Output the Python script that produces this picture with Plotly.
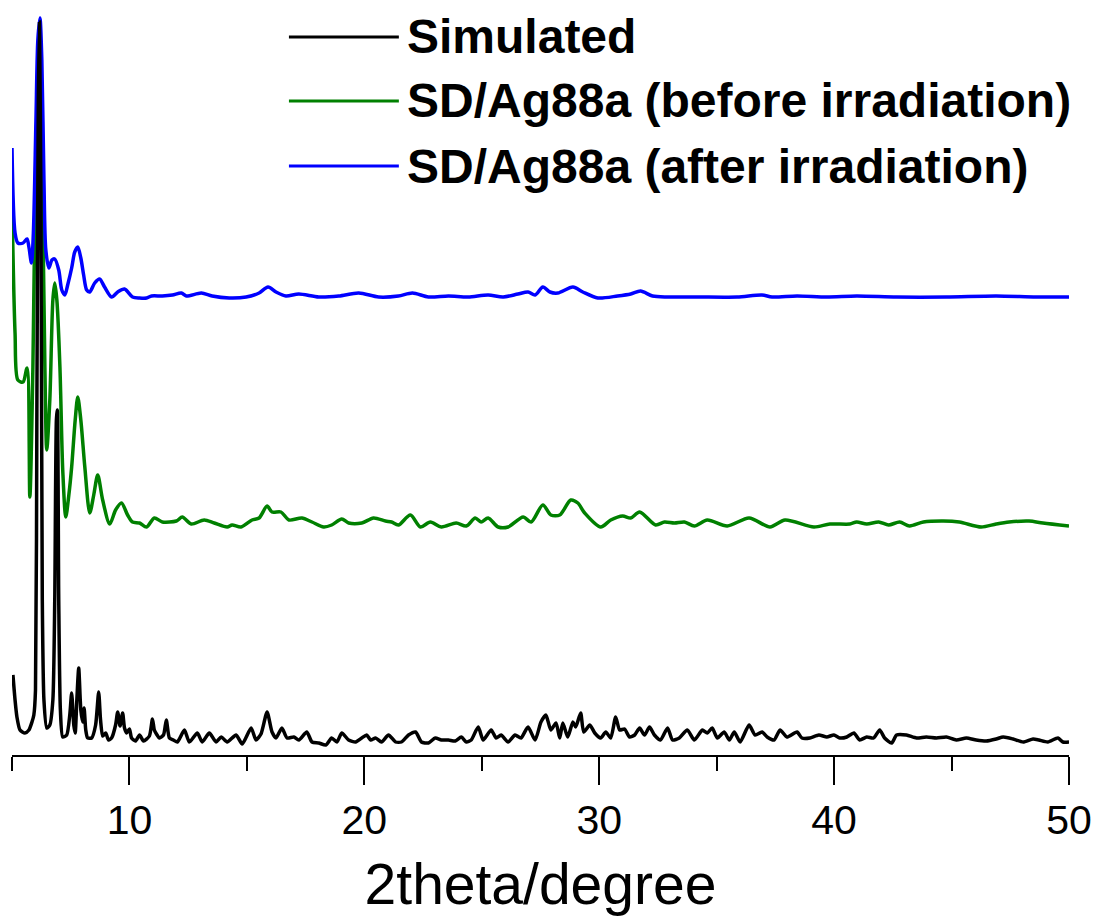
import plotly.graph_objects as go

# Powder XRD patterns, 2theta in degrees, intensity in arbitrary units
sim_2theta = [5.04, 5.13, 5.21, 5.34, 5.55, 5.72, 5.85, 5.93, 6.00, 6.06, 6.12, 6.17, 6.23, 6.29, 6.36,
              6.48, 6.61, 6.74, 6.82, 6.89, 6.93, 6.99, 7.06, 7.16, 7.33, 7.46, 7.54, 7.63, 7.69, 7.76,
              7.84, 7.93, 8.01, 8.07, 8.14, 8.22, 8.39, 8.56, 8.69, 8.77, 8.86, 8.99, 9.11, 9.24, 9.41,
              9.50, 9.60, 9.71, 9.79, 9.88, 10.00, 10.09, 10.26, 10.43, 10.60, 10.85, 10.98, 11.06, 11.15,
              11.28, 11.45, 11.57, 11.70, 11.87, 12.04, 12.34, 12.55, 12.89, 13.10, 13.40, 13.69, 13.91,
              14.16, 14.54, 14.80, 15.18, 15.39, 15.60, 15.86, 16.07, 16.24, 16.49, 16.71, 17.00, 17.21,
              17.55, 17.77, 18.06, 18.36, 18.61, 18.83, 19.04, 19.33, 19.63, 19.89, 20.10, 20.27, 20.48,
              20.73, 21.03, 21.33, 21.58, 21.88, 22.18, 22.43, 22.73, 23.02, 23.28, 23.58, 23.87, 24.13,
              24.34, 24.55, 24.85, 25.06, 25.40, 25.61, 25.82, 26.12, 26.42, 26.67, 26.97, 27.27, 27.52,
              27.73, 27.94, 28.16, 28.32, 28.45, 28.66, 28.88, 29.00, 29.21, 29.34, 29.60, 29.81, 30.06,
              30.28, 30.49, 30.70, 30.87, 31.08, 31.29, 31.51, 31.72, 31.93, 32.14, 32.35, 32.61, 32.91,
              33.12, 33.41, 33.75, 34.05, 34.39, 34.60, 34.81, 35.03, 35.32, 35.54, 35.75, 36.00, 36.38,
              36.64, 36.93, 37.15, 37.44, 37.70, 37.99, 38.42, 38.63, 38.97, 39.35, 39.69, 39.99, 40.24,
              40.54, 40.84, 41.09, 41.39, 41.68, 41.94, 42.15, 42.45, 42.66, 43.08, 43.51, 43.93, 44.36,
              44.78, 45.20, 45.63, 46.05, 46.48, 46.90, 47.20, 47.62, 48.05, 48.47, 48.72, 49.10, 49.53,
              49.74, 50.00]
sim_intensity = [70, 45, 28, 15, 12, 15, 23, 30, 55, 345, 645, 723, 545, 145, 45,
                 17, 20, 45, 145, 325, 335, 145, 35, 8, 10, 30, 52, 20, 12, 45,
                 77, 35, 23, 37, 15, 7, 7, 20, 53, 25, 9, 12, 5, 7, 20,
                 33, 19, 32, 17, 12, 16, 7, 4, 10, 4, 9, 26, 15, 11,
                 7, 10, 25, 7, 5, 3, 15, 3, 12, 3, 12, 3, 8,
                 3, 10, 1, 17, 5, 11, 33, 13, 7, 17, 7, 8, 5,
                 13, 3, 2, 0, 7, 3, 12, 5, 3, 7, 10, 5, 7,
                 3, 10, 3, 3, 10, 13, 3, 2, 7, 5, 5, 4, 8,
                 3, 5, 18, 5, 15, 7, 10, 3, 10, 7, 18, 5, 23,
                 30, 15, 22, 7, 22, 8, 23, 18, 32, 13, 20, 12, 7,
                 13, 7, 28, 15, 16, 8, 10, 17, 10, 18, 10, 5, 17,
                 5, 7, 15, 5, 15, 12, 17, 7, 13, 5, 13, 3, 20,
                 10, 13, 8, 5, 15, 8, 13, 7, 7, 10, 8, 10, 7,
                 8, 12, 5, 8, 7, 15, 7, 2, 10, 10, 7, 8, 7,
                 8, 5, 7, 5, 4, 6, 8, 6, 3, 6, 5, 3, 7,
                 3, 3]

before_2theta = [5.00, 5.13, 5.25, 5.47, 5.64, 5.76, 5.89, 6.02, 6.17, 6.27, 6.40, 6.48, 6.61, 6.74, 6.82,
                 6.91, 7.04, 7.16, 7.29, 7.42, 7.54, 7.69, 7.80, 7.93, 8.10, 8.31, 8.48, 8.65, 8.86, 9.16,
                 9.41, 9.66, 9.92, 10.13, 10.43, 10.73, 11.06, 11.40, 12.00, 12.25, 12.63, 13.18, 13.61,
                 14.16, 14.37, 14.75, 15.22, 15.52, 15.86, 16.07, 16.45, 16.79, 17.34, 17.77, 18.27, 18.61,
                 19.04, 19.33, 19.89, 20.39, 20.90, 21.16, 21.45, 21.96, 22.39, 22.81, 23.28, 23.91, 24.34,
                 24.72, 24.97, 25.27, 25.70, 26.12, 26.76, 27.10, 27.60, 27.94, 28.32, 28.79, 29.09, 29.38,
                 30.06, 30.49, 31.00, 31.34, 31.72, 32.40, 32.78, 33.20, 33.63, 34.05, 34.60, 35.45, 36.38,
                 37.27, 37.91, 39.14, 39.82, 40.67, 40.96, 41.39, 41.90, 42.32, 42.79, 43.21, 43.80, 44.65,
                 45.33, 46.26, 46.90, 47.45, 48.30, 48.89, 50.00]
before_intensity = [323, 195, 148, 146, 160, 31, 161, 378, 468, 378, 161, 78, 128, 228, 245,
                    228, 161, 58, 11, 33, 61, 108, 131, 108, 61, 15, 33, 53, 28, 4,
                    18, 25, 13, 6, 5, 1, 10, 6, 7, 11, 4, 8, 5,
                    1, 3, 1, 8, 10, 22, 16, 16, 8, 10, 6, 1, 3,
                    9, 5, 5, 10, 7, 6, 3, 13, 1, 6, 1, 5, 2,
                    10, 6, 10, 1, 1, 11, 6, 23, 13, 13, 28, 25, 15,
                    1, 8, 12, 10, 16, 3, 6, 5, 6, 2, 8, 2, 10,
                    1, 8, 1, 4, 4, 6, 4, 6, 3, 6, 2, 6, 7,
                    6, 1, 4, 6, 7, 5, 2]

after_2theta = [5.00, 5.13, 5.25, 5.47, 5.64, 5.72, 5.83, 5.91, 6.02, 6.10, 6.19, 6.27, 6.36, 6.44, 6.57,
                6.70, 6.82, 6.99, 7.12, 7.25, 7.37, 7.54, 7.67, 7.80, 7.93, 8.05, 8.18, 8.31, 8.52, 8.73,
                8.94, 9.24, 9.50, 9.79, 10.13, 10.43, 10.73, 10.94, 11.40, 11.83, 12.21, 12.42, 13.06,
                13.52, 14.25, 14.97, 15.52, 15.90, 16.24, 16.66, 17.21, 18.06, 18.91, 19.76, 20.61, 21.45,
                22.05, 22.73, 23.58, 24.42, 25.27, 25.91, 26.54, 26.97, 27.27, 27.60, 27.90, 28.24, 28.88,
                29.30, 29.94, 30.78, 31.34, 31.76, 32.27, 32.91, 34.18, 35.87, 36.93, 37.36, 38.42, 39.69,
                40.96, 42.66, 44.78, 46.90, 48.60, 50.00]
after_intensity = [151, 66, 56, 56, 60, 52, 36, 66, 179, 259, 281, 239, 119, 49, 31,
                   39, 40, 29, 9, 4, 14, 31, 47, 52, 41, 24, 9, 7, 16, 20,
                   12, 2, 7, 10, 2, 1, 1, 3, 3, 4, 6, 3, 6,
                   3, 1, 2, 6, 12, 7, 3, 5, 2, 3, 6, 2, 3,
                   6, 2, 3, 2, 4, 2, 5, 7, 4, 12, 7, 6, 12,
                   7, 1, 3, 5, 8, 3, 2, 2, 2, 4, 2, 3, 2,
                   3, 2, 2, 3, 2, 2]

# vertical stacking of the three patterns
sim_offset = 10
before_offset = 227
after_offset = 456

series_names = ["Simulated", "SD/Ag88a (before irradiation)", "SD/Ag88a (after irradiation)"]
series_colors = ["#000000", "#008000", "#0000FF"]

font_family = "Liberation Sans, Arial, sans-serif"

fig = go.Figure()
# green and blue first so the simulated pattern sits on top
fig.add_trace(go.Scatter(x=before_2theta, y=[v + before_offset for v in before_intensity],
                         mode="lines", name=series_names[1],
                         line=dict(color=series_colors[1], width=3.5, shape="spline", smoothing=0.8)))
fig.add_trace(go.Scatter(x=after_2theta, y=[v + after_offset for v in after_intensity],
                         mode="lines", name=series_names[2],
                         line=dict(color=series_colors[2], width=3.5, shape="spline", smoothing=0.8)))
fig.add_trace(go.Scatter(x=sim_2theta, y=[v + sim_offset for v in sim_intensity],
                         mode="lines", name=series_names[0],
                         line=dict(color=series_colors[0], width=3.5, shape="spline", smoothing=0.6)))

# hand-placed legend with long line samples
legend_rows_y = [0.9638, 0.8779, 0.7906]
shapes = []
annotations = []
for name, color, yy in zip(series_names, series_colors, legend_rows_y):
    shapes.append(dict(type="line", xref="paper", yref="paper",
                       x0=0.262, x1=0.366, y0=yy, y1=yy,
                       line=dict(color=color, width=3)))
    annotations.append(dict(xref="paper", yref="paper", x=0.372, y=yy,
                            xanchor="left", yanchor="middle", showarrow=False,
                            text="<b>" + name + "</b>",
                            font=dict(family=font_family, size=48, color="black")))

fig.update_layout(
    width=1102, height=919,
    margin=dict(l=12, r=26, t=10, b=164),
    paper_bgcolor="white", plot_bgcolor="white",
    showlegend=False,
    shapes=shapes, annotations=annotations,
    xaxis=dict(
        range=[5, 50], tick0=0, dtick=10,
        showgrid=False, zeroline=False,
        showline=True, linecolor="black", linewidth=2,
        ticks="outside", ticklen=28, tickwidth=2, tickcolor="black",
        minor=dict(dtick=5, tick0=0, ticks="outside", ticklen=14, tickwidth=2, tickcolor="black", showgrid=False),
        tickfont=dict(family=font_family, size=41, color="black"),
        title=dict(text="2theta/degree", font=dict(family=font_family, size=57, color="black"), standoff=22),
    ),
    yaxis=dict(range=[0, 745], visible=False, showgrid=False, zeroline=False),
)

fig.write_html("out.html")
